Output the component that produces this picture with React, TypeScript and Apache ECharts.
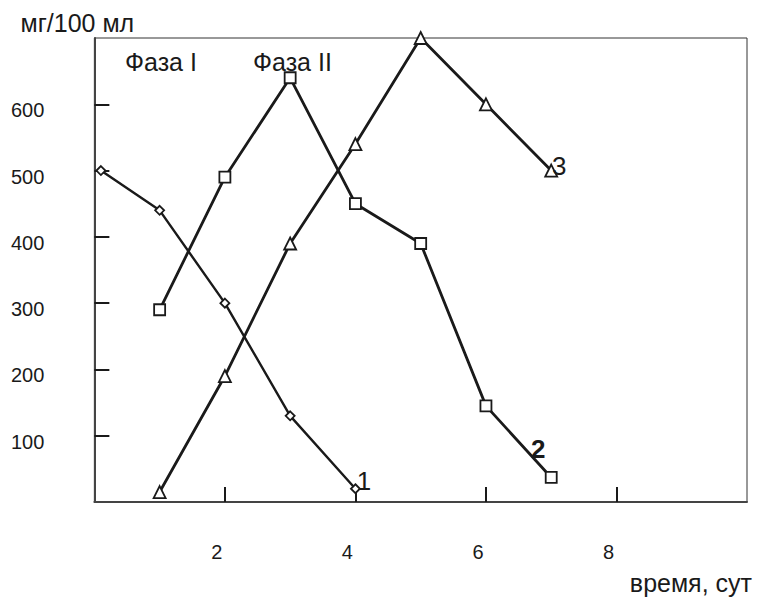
import React, { useEffect, useRef } from "react";
import * as echarts from "echarts";

const xTicks = [0, 2, 4, 6, 8, 10];
const yTicks = [0, 100, 200, 300, 400, 500, 600, 700];
const series1 = [[0.1, 500], [1, 440], [2, 300], [3, 130], [4, 20]];
const series2 = [[1, 290], [2, 490], [3, 640], [4, 450], [5, 390], [6, 145], [7, 37]];
const series3 = [[1, 15], [2, 190], [3, 390], [4, 540], [5, 700], [6, 600], [7, 500]];
const seriesNames = ["1", "2", "3"];
const phaseLabels = ["Фаза I", "Фаза II"];
const yTitle = "мг/100 мл";
const xTitle = "время, сут";

const FONT = "'Liberation Sans', Arial, sans-serif";
const INK = "#1a1a1a";
const TICK_FS = 20;
const TITLE_FS = 25;
const LABEL_FS = 26;

export default function App() {
  const ref = useRef<HTMLDivElement>(null);
  useEffect(() => {
    if (!ref.current) return;
    const chart = echarts.init(ref.current, null, { renderer: "svg" });
    const lastLabel = (
      data: number[][],
      text: string,
      offset: number[],
      position: any,
      extra: any = {}
    ) =>
      data.map((d, i) =>
        i === data.length - 1
          ? {
              value: d,
              label: {
                show: true,
                formatter: text,
                position,
                distance: 0,
                offset,
                color: INK,
                fontSize: LABEL_FS,
                fontFamily: FONT,
                ...extra,
              },
            }
          : { value: d }
      );
    const lineBase = {
      type: "line",
      lineStyle: { color: INK, width: 2.8 },
      itemStyle: { color: "#fff", borderColor: INK, borderWidth: 1.8 },
      showAllSymbol: true,
      z: 3,
    };
    chart.setOption({
      animation: false,
      backgroundColor: "#fff",
      grid: {
        left: 86,
        right: 15,
        top: 30,
        bottom: 97,
        show: true,
        borderColor: "#333",
        borderWidth: 1,
        backgroundColor: "transparent",
      },
      xAxis: {
        type: "value",
        min: xTicks[0],
        max: xTicks[xTicks.length - 1],
        interval: 2,
        axisLine: { show: true, lineStyle: { color: "#444", width: 2 } },
        axisTick: { show: true, inside: true, length: 15, lineStyle: { color: INK, width: 2 } },
        axisLabel: {
          margin: 40,
          fontSize: TICK_FS,
          fontFamily: FONT,
          color: INK,
          showMinLabel: false,
          showMaxLabel: false,
          padding: [0, 16, 0, 0],
        },
        splitLine: { show: false },
      },
      yAxis: {
        type: "value",
        min: yTicks[0],
        max: yTicks[yTicks.length - 1],
        interval: 100,
        name: yTitle,
        nameLocation: "end",
        nameGap: 15,
        nameTextStyle: {
          fontSize: TITLE_FS,
          fontFamily: FONT,
          color: INK,
          align: "center",
          verticalAlign: "middle",
          padding: [0, 34, 0, 0],
        },
        axisLine: { show: true, lineStyle: { color: "#444", width: 2 } },
        axisTick: { show: true, inside: true, length: 15, lineStyle: { color: INK, width: 2 } },
        axisLabel: {
          margin: 50,
          fontSize: TICK_FS,
          fontFamily: FONT,
          color: INK,
          showMinLabel: false,
          showMaxLabel: false,
          verticalAlign: "top",
          lineHeight: 12,
        },
        splitLine: { show: false },
      },
      graphic: [
        {
          type: "text",
          left: 117,
          top: 41,
          style: { text: phaseLabels[0], fontSize: 25, fontFamily: FONT, fill: INK },
        },
        {
          type: "text",
          left: 245,
          top: 41,
          style: { text: phaseLabels[1], fontSize: 25, fontFamily: FONT, fill: INK },
        },
        {
          type: "text",
          right: 10,
          top: 562,
          style: { text: xTitle, fontSize: TITLE_FS, fontFamily: FONT, fill: INK },
        },
      ],
      series: [
        {
          ...lineBase,
          name: seriesNames[0],
          symbol: "diamond",
          symbolSize: 9,
          lineStyle: { color: INK, width: 2.4 },
          data: lastLabel(series1, seriesNames[0], [-4, -8], "right"),
        },
        {
          ...lineBase,
          name: seriesNames[1],
          symbol: "rect",
          symbolSize: 11,
          data: lastLabel(series2, seriesNames[1], [-13, -9], "top", { fontWeight: "bold" }),
        },
        {
          ...lineBase,
          name: seriesNames[2],
          symbol: "triangle",
          symbolSize: 12,
          data: lastLabel(series3, seriesNames[2], [-6, -5], "right"),
        },
      ],
    });
    return () => chart.dispose();
  }, []);
  return <div ref={ref} style={{ width: 754, height: 591 }} />;
}
